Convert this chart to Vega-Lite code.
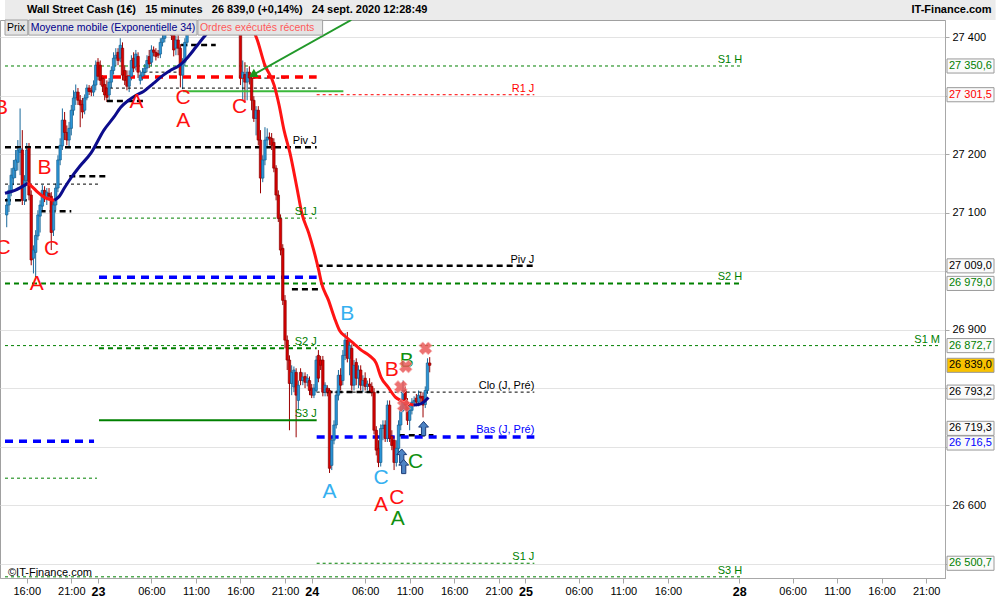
{
 "$schema": "https://vega.github.io/schema/vega-lite/v6.json",
 "width": 945,
 "height": 558,
 "autosize": {"type": "none"},
 "padding": {"left": 0, "top": 20, "right": 55, "bottom": 22},
 "background": "white",
 "config": {
  "font": "Liberation Sans",
  "locale": {"number": {"decimal": ",", "thousands": " ", "grouping": [3], "currency": ["", " €"]}},
  "view": {"stroke": "#a0a0a0"}
 },
 "resolve": {"scale": {"color": "independent"}},
 "datasets": {
  "levels": [
   {"name":"S1 H","label":"S1 H","p":27350.6,"t0":13.556,"t1":96.333},
   {"name":"R1 J","label":"R1 J","p":27301.5,"t0":48.556,"t1":73.0},
   {"name":"Piv J","label":"Piv J","p":27009.0,"t0":48.556,"t1":73.0},
   {"name":"S2 H","label":"S2 H","p":26979.0,"t0":13.556,"t1":96.333},
   {"name":"S1 M","label":"S1 M","p":26872.7,"t0":13.556,"t1":118.556},
   {"name":"Clo (J, Pré)","label":"Clo (J, Pré)","p":26793.2,"t0":48.556,"t1":73.0},
   {"name":"Bas (J, Pré)","label":"Bas (J, Pré)","p":26716.5,"t0":48.556,"t1":73.0},
   {"name":"S1 J","label":"S1 J","p":26500.7,"t0":48.556,"t1":73.0},
   {"name":"S3 H","label":"S3 H","p":26477.5,"t0":13.556,"t1":96.333},
   {"name":"Piv J 23","label":"Piv J","p":27211.9,"t0":13.556,"t1":48.556},
   {"name":"S1 J 23","label":"S1 J","p":27090.6,"t0":24.111,"t1":48.556},
   {"name":"S2 J 23","label":"S2 J","p":26868.3,"t0":24.111,"t1":48.556},
   {"name":"S3 J 23","label":"S3 J","p":26745.3,"t0":24.111,"t1":48.556},
   {"name":"Haut 23","p":27331.6,"t0":24.111,"t1":48.556},
   {"name":"Bas 23","p":26989.6,"t0":24.111,"t1":48.556},
   {"name":"Bas 22","p":26709.4,"t0":13.556,"t1":23.556},
   {"name":"S 22","p":26646.1,"t0":13.556,"t1":23.889},
   {"name":"Clo 23","p":27312.8,"t0":24.667,"t1":48.556},
   {"name":"Clo 22","p":27148.7,"t0":13.556,"t1":24.111},
   {"name":"k1","p":27162.3,"t0":20.778,"t1":25.0},
   {"name":"k2","p":27102.5,"t0":17.444,"t1":21.0},
   {"name":"k3","p":27121.3,"t0":13.556,"t1":16.0},
   {"name":"k4","p":27386.3,"t0":33.333,"t1":37.222},
   {"name":"k5","p":27340.1,"t0":29.111,"t1":33.333},
   {"name":"k6","p":27290.6,"t0":25.0,"t1":29.111},
   {"name":"k7","p":27329.9,"t0":41.333,"t1":45.222},
   {"name":"k8","p":26969.0,"t0":45.778,"t1":49.111},
   {"name":"k9","p":26719.3,"t0":57.778,"t1":61.667},
   {"name":"k10","p":26793.2,"t0":49.667,"t1":55.556},
   {"name":"Ordre","p":27307.4,"t0":33.556,"t1":51.556}
  ],
  "bougies": [
   {"t":13.75,"o":27096,"h":27125,"l":27075,"c":27113},
   {"t":14.0,"o":27113,"h":27147,"l":27101,"c":27138},
   {"t":14.25,"o":27135,"h":27176,"l":27128,"c":27164},
   {"t":14.5,"o":27159,"h":27190,"l":27147,"c":27176},
   {"t":14.75,"o":27172,"h":27207,"l":27159,"c":27190},
   {"t":15.0,"o":27186,"h":27224,"l":27172,"c":27207},
   {"t":15.25,"o":27203,"h":27278,"l":27164,"c":27210},
   {"t":15.5,"o":27207,"h":27241,"l":27113,"c":27121},
   {"t":15.75,"o":27121,"h":27164,"l":27113,"c":27155},
   {"t":16.0,"o":27155,"h":27219,"l":27147,"c":27207},
   {"t":16.25,"o":27210,"h":27219,"l":27121,"c":27130},
   {"t":16.5,"o":27130,"h":27138,"l":27010,"c":27019},
   {"t":16.75,"o":27022,"h":27044,"l":26996,"c":27036},
   {"t":17.0,"o":27032,"h":27070,"l":26990,"c":27061},
   {"t":17.25,"o":27060,"h":27104,"l":27053,"c":27096},
   {"t":17.5,"o":27094,"h":27121,"l":27066,"c":27113},
   {"t":17.75,"o":27111,"h":27147,"l":27101,"c":27138},
   {"t":18.0,"o":27138,"h":27145,"l":27118,"c":27125},
   {"t":18.25,"o":27125,"h":27142,"l":27113,"c":27135},
   {"t":18.5,"o":27133,"h":27142,"l":27121,"c":27128},
   {"t":18.75,"o":27128,"h":27135,"l":27036,"c":27066},
   {"t":19.0,"o":27070,"h":27121,"l":27060,"c":27113},
   {"t":19.25,"o":27113,"h":27150,"l":27104,"c":27142},
   {"t":19.5,"o":27142,"h":27198,"l":27135,"c":27190},
   {"t":19.75,"o":27190,"h":27227,"l":27181,"c":27215},
   {"t":20.0,"o":27214,"h":27278,"l":27207,"c":27258},
   {"t":20.25,"o":27258,"h":27272,"l":27224,"c":27237},
   {"t":20.5,"o":27237,"h":27249,"l":27215,"c":27224},
   {"t":20.75,"o":27224,"h":27255,"l":27210,"c":27244},
   {"t":21.0,"o":27244,"h":27284,"l":27232,"c":27275},
   {"t":21.25,"o":27275,"h":27309,"l":27266,"c":27296},
   {"t":21.5,"o":27296,"h":27319,"l":27284,"c":27306},
   {"t":21.75,"o":27306,"h":27313,"l":27284,"c":27292},
   {"t":22.0,"o":27292,"h":27301,"l":27246,"c":27284},
   {"t":22.25,"o":27285,"h":27296,"l":27261,"c":27272},
   {"t":22.5,"o":27275,"h":27302,"l":27268,"c":27296},
   {"t":22.75,"o":27296,"h":27319,"l":27292,"c":27313},
   {"t":23.0,"o":27313,"h":27318,"l":27301,"c":27307},
   {"t":23.25,"o":27309,"h":27316,"l":27299,"c":27306},
   {"t":23.5,"o":27306,"h":27326,"l":27299,"c":27318},
   {"t":23.75,"o":27318,"h":27360,"l":27309,"c":27352},
   {"t":24.0,"o":27357,"h":27364,"l":27326,"c":27333},
   {"t":24.25,"o":27352,"h":27360,"l":27318,"c":27326},
   {"t":24.5,"o":27330,"h":27335,"l":27306,"c":27316},
   {"t":24.75,"o":27319,"h":27330,"l":27292,"c":27301},
   {"t":25.0,"o":27313,"h":27326,"l":27289,"c":27297},
   {"t":25.25,"o":27301,"h":27330,"l":27292,"c":27323},
   {"t":25.5,"o":27323,"h":27350,"l":27313,"c":27343},
   {"t":25.75,"o":27343,"h":27374,"l":27336,"c":27364},
   {"t":26.0,"o":27364,"h":27381,"l":27350,"c":27369},
   {"t":26.25,"o":27374,"h":27381,"l":27352,"c":27360},
   {"t":26.5,"o":27364,"h":27398,"l":27357,"c":27386},
   {"t":26.75,"o":27381,"h":27391,"l":27326,"c":27335},
   {"t":27.0,"o":27343,"h":27352,"l":27318,"c":27326},
   {"t":27.25,"o":27333,"h":27343,"l":27309,"c":27316},
   {"t":27.5,"o":27316,"h":27343,"l":27306,"c":27333},
   {"t":27.75,"o":27333,"h":27369,"l":27326,"c":27360},
   {"t":28.0,"o":27364,"h":27374,"l":27340,"c":27347},
   {"t":28.25,"o":27350,"h":27378,"l":27343,"c":27371},
   {"t":28.5,"o":27367,"h":27374,"l":27330,"c":27340},
   {"t":28.75,"o":27326,"h":27343,"l":27319,"c":27335},
   {"t":29.0,"o":27333,"h":27347,"l":27326,"c":27340},
   {"t":29.25,"o":27340,"h":27354,"l":27333,"c":27347},
   {"t":29.5,"o":27347,"h":27369,"l":27340,"c":27360},
   {"t":29.75,"o":27367,"h":27378,"l":27347,"c":27354},
   {"t":30.0,"o":27357,"h":27386,"l":27350,"c":27378},
   {"t":30.25,"o":27378,"h":27384,"l":27367,"c":27374},
   {"t":30.5,"o":27374,"h":27381,"l":27360,"c":27367},
   {"t":30.75,"o":27372,"h":27378,"l":27364,"c":27369},
   {"t":31.0,"o":27371,"h":27398,"l":27364,"c":27391},
   {"t":31.25,"o":27391,"h":27405,"l":27384,"c":27398},
   {"t":31.5,"o":27398,"h":27420,"l":27391,"c":27412},
   {"t":31.75,"o":27412,"h":27438,"l":27405,"c":27426},
   {"t":32.0,"o":27426,"h":27446,"l":27412,"c":27432},
   {"t":32.25,"o":27432,"h":27443,"l":27395,"c":27403},
   {"t":32.5,"o":27408,"h":27420,"l":27367,"c":27378},
   {"t":32.75,"o":27381,"h":27402,"l":27369,"c":27395},
   {"t":33.0,"o":27395,"h":27403,"l":27369,"c":27381},
   {"t":33.25,"o":27381,"h":27388,"l":27314,"c":27335},
   {"t":33.5,"o":27335,"h":27364,"l":27311,"c":27357},
   {"t":33.75,"o":27357,"h":27398,"l":27350,"c":27391},
   {"t":34.0,"o":27391,"h":27429,"l":27384,"c":27420},
   {"t":34.25,"o":27420,"h":27455,"l":27412,"c":27443},
   {"t":34.5,"o":27443,"h":27463,"l":27432,"c":27455},
   {"t":34.75,"o":27455,"h":27472,"l":27446,"c":27463},
   {"t":35.0,"o":27463,"h":27480,"l":27453,"c":27472},
   {"t":35.25,"o":27472,"h":27484,"l":27456,"c":27467},
   {"t":35.5,"o":27467,"h":27489,"l":27458,"c":27480},
   {"t":35.75,"o":27480,"h":27494,"l":27463,"c":27474},
   {"t":36.0,"o":27474,"h":27497,"l":27467,"c":27487},
   {"t":36.25,"o":27487,"h":27497,"l":27467,"c":27477},
   {"t":36.5,"o":27477,"h":27487,"l":27460,"c":27470},
   {"t":36.75,"o":27470,"h":27491,"l":27463,"c":27484},
   {"t":37.0,"o":27484,"h":27494,"l":27470,"c":27477},
   {"t":37.25,"o":27477,"h":27484,"l":27456,"c":27467},
   {"t":37.5,"o":27467,"h":27480,"l":27453,"c":27474},
   {"t":37.75,"o":27474,"h":27480,"l":27455,"c":27463},
   {"t":38.0,"o":27463,"h":27477,"l":27453,"c":27470},
   {"t":38.25,"o":27470,"h":27477,"l":27450,"c":27460},
   {"t":38.5,"o":27460,"h":27474,"l":27450,"c":27467},
   {"t":38.75,"o":27467,"h":27474,"l":27446,"c":27456},
   {"t":39.0,"o":27456,"h":27470,"l":27446,"c":27463},
   {"t":39.25,"o":27463,"h":27470,"l":27443,"c":27453},
   {"t":39.5,"o":27453,"h":27460,"l":27439,"c":27450},
   {"t":39.75,"o":27450,"h":27456,"l":27436,"c":27446},
   {"t":40.0,"o":27443,"h":27450,"l":27318,"c":27330},
   {"t":40.25,"o":27330,"h":27360,"l":27292,"c":27340},
   {"t":40.5,"o":27336,"h":27357,"l":27289,"c":27323},
   {"t":40.75,"o":27323,"h":27347,"l":27292,"c":27340},
   {"t":41.0,"o":27340,"h":27350,"l":27319,"c":27330},
   {"t":41.25,"o":27330,"h":27335,"l":27275,"c":27292},
   {"t":41.5,"o":27292,"h":27299,"l":27255,"c":27261},
   {"t":41.75,"o":27261,"h":27282,"l":27232,"c":27275},
   {"t":42.0,"o":27275,"h":27282,"l":27215,"c":27224},
   {"t":42.25,"o":27224,"h":27241,"l":27133,"c":27159},
   {"t":42.5,"o":27159,"h":27198,"l":27152,"c":27190},
   {"t":42.75,"o":27190,"h":27246,"l":27181,"c":27224},
   {"t":43.0,"o":27224,"h":27244,"l":27210,"c":27229},
   {"t":43.25,"o":27229,"h":27237,"l":27215,"c":27227},
   {"t":43.5,"o":27227,"h":27236,"l":27207,"c":27215},
   {"t":43.75,"o":27220,"h":27227,"l":27169,"c":27176},
   {"t":44.0,"o":27176,"h":27181,"l":27121,"c":27130},
   {"t":44.25,"o":27130,"h":27138,"l":27084,"c":27090},
   {"t":44.5,"o":27090,"h":27097,"l":27027,"c":27036},
   {"t":44.75,"o":27039,"h":27046,"l":26942,"c":26950},
   {"t":45.0,"o":26950,"h":26959,"l":26868,"c":26882},
   {"t":45.25,"o":26882,"h":26890,"l":26831,"c":26848},
   {"t":45.5,"o":26848,"h":26856,"l":26728,"c":26808},
   {"t":45.75,"o":26808,"h":26839,"l":26788,"c":26827},
   {"t":46.0,"o":26802,"h":26837,"l":26793,"c":26831},
   {"t":46.25,"o":26827,"h":26834,"l":26716,"c":26788},
   {"t":46.5,"o":26779,"h":26813,"l":26762,"c":26805},
   {"t":46.75,"o":26827,"h":26834,"l":26805,"c":26813},
   {"t":47.0,"o":26813,"h":26827,"l":26805,"c":26819},
   {"t":47.25,"o":26820,"h":26827,"l":26800,"c":26810},
   {"t":47.5,"o":26810,"h":26824,"l":26803,"c":26817},
   {"t":47.75,"o":26813,"h":26820,"l":26788,"c":26796},
   {"t":48.0,"o":26800,"h":26807,"l":26783,"c":26788},
   {"t":48.25,"o":26788,"h":26807,"l":26783,"c":26800},
   {"t":48.5,"o":26796,"h":26855,"l":26793,"c":26848},
   {"t":48.75,"o":26856,"h":26865,"l":26810,"c":26817},
   {"t":49.0,"o":26848,"h":26855,"l":26831,"c":26839},
   {"t":49.25,"o":26848,"h":26855,"l":26786,"c":26793},
   {"t":49.5,"o":26793,"h":26810,"l":26786,"c":26805},
   {"t":49.75,"o":26800,"h":26805,"l":26786,"c":26793},
   {"t":50.0,"o":26796,"h":26800,"l":26655,"c":26663},
   {"t":50.25,"o":26668,"h":26718,"l":26660,"c":26711},
   {"t":50.5,"o":26711,"h":26745,"l":26704,"c":26737},
   {"t":50.75,"o":26737,"h":26796,"l":26731,"c":26788},
   {"t":51.0,"o":26788,"h":26831,"l":26779,"c":26822},
   {"t":51.25,"o":26822,"h":26834,"l":26796,"c":26805},
   {"t":51.5,"o":26813,"h":26865,"l":26805,"c":26856},
   {"t":51.75,"o":26856,"h":26894,"l":26848,"c":26882},
   {"t":52.0,"o":26882,"h":26896,"l":26844,"c":26851},
   {"t":52.25,"o":26851,"h":26882,"l":26822,"c":26873},
   {"t":52.5,"o":26868,"h":26875,"l":26796,"c":26805},
   {"t":52.75,"o":26805,"h":26848,"l":26796,"c":26839},
   {"t":53.0,"o":26844,"h":26851,"l":26805,"c":26817},
   {"t":53.25,"o":26817,"h":26839,"l":26800,"c":26831},
   {"t":53.5,"o":26831,"h":26839,"l":26796,"c":26805},
   {"t":53.75,"o":26805,"h":26822,"l":26793,"c":26813},
   {"t":54.0,"o":26817,"h":26827,"l":26796,"c":26803},
   {"t":54.25,"o":26803,"h":26813,"l":26796,"c":26807},
   {"t":54.5,"o":26807,"h":26817,"l":26793,"c":26803},
   {"t":54.75,"o":26803,"h":26810,"l":26786,"c":26793},
   {"t":55.0,"o":26793,"h":26800,"l":26721,"c":26728},
   {"t":55.25,"o":26728,"h":26735,"l":26685,"c":26694},
   {"t":55.5,"o":26697,"h":26711,"l":26665,"c":26673},
   {"t":55.75,"o":26673,"h":26738,"l":26666,"c":26731},
   {"t":56.0,"o":26731,"h":26745,"l":26711,"c":26737},
   {"t":56.25,"o":26737,"h":26745,"l":26708,"c":26714},
   {"t":56.5,"o":26714,"h":26779,"l":26708,"c":26771},
   {"t":56.75,"o":26771,"h":26779,"l":26708,"c":26714},
   {"t":57.0,"o":26718,"h":26728,"l":26694,"c":26702},
   {"t":57.25,"o":26711,"h":26718,"l":26660,"c":26673},
   {"t":57.5,"o":26673,"h":26711,"l":26666,"c":26697},
   {"t":57.75,"o":26697,"h":26745,"l":26690,"c":26737},
   {"t":58.0,"o":26737,"h":26771,"l":26728,"c":26762},
   {"t":58.25,"o":26762,"h":26813,"l":26759,"c":26796},
   {"t":58.5,"o":26796,"h":26803,"l":26762,"c":26771},
   {"t":58.75,"o":26776,"h":26783,"l":26737,"c":26745},
   {"t":59.0,"o":26745,"h":26771,"l":26728,"c":26762},
   {"t":59.25,"o":26762,"h":26783,"l":26755,"c":26776},
   {"t":59.5,"o":26776,"h":26786,"l":26769,"c":26779},
   {"t":59.75,"o":26783,"h":26790,"l":26769,"c":26776},
   {"t":60.0,"o":26776,"h":26796,"l":26769,"c":26788},
   {"t":60.25,"o":26786,"h":26793,"l":26776,"c":26783},
   {"t":60.5,"o":26786,"h":26793,"l":26750,"c":26771},
   {"t":60.75,"o":26772,"h":26803,"l":26766,"c":26796},
   {"t":61.0,"o":26796,"h":26851,"l":26790,"c":26843},
   {"t":61.25,"o":26843,"h":26853,"l":26827,"c":26839}
  ],
  "mme34": [
   {"t":13.556,"p":27133,"seg":"b0","sens":"hausse"},
   {"t":14.667,"p":27138,"seg":"b0","sens":"hausse"},
   {"t":16.111,"p":27150,"seg":"b0","sens":"hausse"},
   {"t":16.111,"p":27150,"seg":"r1","sens":"baisse"},
   {"t":16.556,"p":27145,"seg":"r1","sens":"baisse"},
   {"t":17.222,"p":27135,"seg":"r1","sens":"baisse"},
   {"t":18.0,"p":27126,"seg":"r1","sens":"baisse"},
   {"t":19.111,"p":27121,"seg":"r1","sens":"baisse"},
   {"t":19.111,"p":27121,"seg":"b1","sens":"hausse"},
   {"t":19.667,"p":27128,"seg":"b1","sens":"hausse"},
   {"t":20.222,"p":27142,"seg":"b1","sens":"hausse"},
   {"t":21.0,"p":27160,"seg":"b1","sens":"hausse"},
   {"t":21.889,"p":27178,"seg":"b1","sens":"hausse"},
   {"t":23.222,"p":27202,"seg":"b1","sens":"hausse"},
   {"t":24.667,"p":27241,"seg":"b1","sens":"hausse"},
   {"t":25.778,"p":27263,"seg":"b1","sens":"hausse"},
   {"t":26.556,"p":27280,"seg":"b1","sens":"hausse"},
   {"t":27.444,"p":27292,"seg":"b1","sens":"hausse"},
   {"t":28.333,"p":27301,"seg":"b1","sens":"hausse"},
   {"t":29.111,"p":27307,"seg":"b1","sens":"hausse"},
   {"t":30.222,"p":27321,"seg":"b1","sens":"hausse"},
   {"t":31.333,"p":27335,"seg":"b1","sens":"hausse"},
   {"t":32.111,"p":27343,"seg":"b1","sens":"hausse"},
   {"t":33.0,"p":27350,"seg":"b1","sens":"hausse"},
   {"t":33.556,"p":27357,"seg":"b1","sens":"hausse"},
   {"t":34.111,"p":27366,"seg":"b1","sens":"hausse"},
   {"t":35.0,"p":27383,"seg":"b1","sens":"hausse"},
   {"t":35.778,"p":27398,"seg":"b1","sens":"hausse"},
   {"t":36.333,"p":27408,"seg":"b1","sens":"hausse"},
   {"t":37.111,"p":27426,"seg":"b1","sens":"hausse"},
   {"t":38.0,"p":27436,"seg":"b1","sens":"hausse"},
   {"t":38.889,"p":27440,"seg":"b1","sens":"hausse"},
   {"t":38.889,"p":27440,"seg":"r2","sens":"baisse"},
   {"t":40.0,"p":27437,"seg":"r2","sens":"baisse"},
   {"t":40.778,"p":27429,"seg":"r2","sens":"baisse"},
   {"t":41.889,"p":27395,"seg":"r2","sens":"baisse"},
   {"t":42.667,"p":27355,"seg":"r2","sens":"baisse"},
   {"t":43.778,"p":27318,"seg":"r2","sens":"baisse"},
   {"t":44.333,"p":27284,"seg":"r2","sens":"baisse"},
   {"t":44.889,"p":27241,"seg":"r2","sens":"baisse"},
   {"t":45.556,"p":27202,"seg":"r2","sens":"baisse"},
   {"t":46.333,"p":27143,"seg":"r2","sens":"baisse"},
   {"t":46.889,"p":27099,"seg":"r2","sens":"baisse"},
   {"t":47.667,"p":27065,"seg":"r2","sens":"baisse"},
   {"t":48.222,"p":27036,"seg":"r2","sens":"baisse"},
   {"t":48.778,"p":27002,"seg":"r2","sens":"baisse"},
   {"t":49.111,"p":26979,"seg":"r2","sens":"baisse"},
   {"t":49.889,"p":26950,"seg":"r2","sens":"baisse"},
   {"t":50.556,"p":26920,"seg":"r2","sens":"baisse"},
   {"t":51.111,"p":26899,"seg":"r2","sens":"baisse"},
   {"t":51.889,"p":26887,"seg":"r2","sens":"baisse"},
   {"t":52.667,"p":26877,"seg":"r2","sens":"baisse"},
   {"t":53.556,"p":26865,"seg":"r2","sens":"baisse"},
   {"t":54.444,"p":26856,"seg":"r2","sens":"baisse"},
   {"t":55.222,"p":26843,"seg":"r2","sens":"baisse"},
   {"t":55.778,"p":26819,"seg":"r2","sens":"baisse"},
   {"t":56.556,"p":26802,"seg":"r2","sens":"baisse"},
   {"t":57.444,"p":26784,"seg":"r2","sens":"baisse"},
   {"t":58.0,"p":26779,"seg":"r2","sens":"baisse"},
   {"t":58.778,"p":26774,"seg":"r2","sens":"baisse"},
   {"t":59.444,"p":26771,"seg":"r2","sens":"baisse"},
   {"t":59.444,"p":26771,"seg":"b2","sens":"hausse"},
   {"t":60.0,"p":26772,"seg":"b2","sens":"hausse"},
   {"t":60.556,"p":26776,"seg":"b2","sens":"hausse"},
   {"t":61.111,"p":26784,"seg":"b2","sens":"hausse"}
  ],
  "vagues": [
   {"txt":"B","t":13.11,"p":27278,"niveau":"1"},
   {"txt":"C","t":13.33,"p":27039,"niveau":"1"},
   {"txt":"B","t":18.0,"p":27176,"niveau":"1"},
   {"txt":"A","t":17.11,"p":26978,"niveau":"1"},
   {"txt":"C","t":18.78,"p":27038,"niveau":"1"},
   {"txt":"A","t":28.33,"p":27289,"niveau":"1"},
   {"txt":"C","t":33.56,"p":27296,"niveau":"1"},
   {"txt":"A","t":33.56,"p":27257,"niveau":"1"},
   {"txt":"C","t":39.89,"p":27280,"niveau":"1"},
   {"txt":"B","t":57.0,"p":26831,"niveau":"1"},
   {"txt":"A","t":55.78,"p":26601,"niveau":"1"},
   {"txt":"C","t":57.56,"p":26612,"niveau":"1"},
   {"txt":"B","t":52.0,"p":26926,"niveau":"2"},
   {"txt":"A","t":50.0,"p":26622,"niveau":"2"},
   {"txt":"C","t":55.78,"p":26646,"niveau":"2"},
   {"txt":"A","t":57.67,"p":26576,"niveau":"3"},
   {"txt":"B","t":58.67,"p":26846,"niveau":"3"},
   {"txt":"C","t":59.67,"p":26673,"niveau":"3"}
  ],
  "ordres": [
   {"t":60.78,"p":26868,"sens":"vente"},
   {"t":58.0,"p":26802,"sens":"vente"},
   {"t":58.33,"p":26770,"sens":"vente"},
   {"t":58.56,"p":26837,"sens":"vente"},
   {"t":58.11,"p":26684,"sens":"achat"},
   {"t":58.33,"p":26666,"sens":"achat"},
   {"t":60.56,"p":26731,"sens":"achat"}
  ],
  "axe": [
   {"p":27350.6,"src":"S1 H"},
   {"p":27301.5,"src":"R1 J"},
   {"p":27009.0,"src":"Piv J"},
   {"p":26979.0,"src":"S2 H"},
   {"p":26872.7,"src":"S1 M"},
   {"p":26839.0,"src":"Dernier"},
   {"p":26793.2,"src":"Clo"},
   {"p":26719.3,"src":"Plus bas"},
   {"p":26716.5,"src":"Bas"},
   {"p":26500.7,"src":"S1 J"}
  ]
 },
 "layer": [
  {
   "data": {"values": [{}]},
   "mark": {"type": "rect", "fill": "#ebebeb"},
   "encoding": {
    "x": {"datum": 13.556, "type": "quantitative", "title": null},
    "x2": {"datum": 124.8},
    "y": {"datum": 27429.2, "type": "quantitative", "title": null},
    "y2": {"datum": 27466}
   }
  },
  {
   "data": {"name": "bougies"},
   "mark": {"type": "rule", "strokeWidth": 1, "clip": true},
   "encoding": {
    "x": {"field": "t", "type": "quantitative", "title": null,
     "scale": {"domain": [13.556, 118.556], "nice": false, "zero": false},
     "axis": {"orient": "bottom", "values": [16,21,24,30,35,40,45,48,54,59,64,69,72,78,83,88,96,102,107,112,117],
      "labelExpr": "datum.value==24?'23':datum.value==48?'24':datum.value==72?'25':datum.value==96?'28':(((datum.value%24)<10?'0':'')+(datum.value%24)+':00')",
      "grid": false, "domainColor": "#a8a8a8", "tickColor": "#a8a8a8", "tickSize": 5, "labelPadding": 2,
      "labelFont": "Liberation Sans", "labelColor": "#000000",
      "labelFontSize": {"condition": {"test": "datum.value % 24 == 0", "value": 12.5}, "value": 11},
      "labelFontWeight": {"condition": {"test": "datum.value % 24 == 0", "value": "bold"}, "value": "normal"},
      "labelOverlap": false, "labelFlush": false, "title": null}},
    "y": {"field": "l", "type": "quantitative", "title": null,
     "scale": {"domain": [26475.5, 27429.2], "nice": false, "zero": false},
     "axis": {"orient": "right", "values": [26500,26600,26700,26800,26900,27000,27100,27200,27300,27400],
      "labelExpr": "indexof([27300,27000,26800,26700,26500], datum.value) >= 0 ? '' : format(datum.value, ',d')",
      "grid": true, "gridColor": "#e3e3e3", "domainColor": "#a8a8a8", "tickColor": "#a8a8a8",
      "tickSize": 4, "labelPadding": 3, "labelFontSize": 11, "labelFont": "Liberation Sans", "labelColor": "#000000",
      "labelOverlap": false, "labelFlush": false, "title": null}},
    "y2": {"field": "h"},
    "color": {"condition": {"test": "datum.c >= datum.o", "value": "#1b6a9c"}, "value": "#9a0000"}
   }
  },
  {
   "data": {"name": "levels"},
   "transform": [{"filter": {"field": "name", "oneOf": ["S1 H","S1 M","S1 J 23","S1 J","S 22","S3 H"]}}],
   "mark": {"type": "rule", "color": "#008000", "strokeWidth": 1, "strokeDash": [3, 3]},
   "encoding": {"x": {"field": "t0", "type": "quantitative", "title": null}, "x2": {"field": "t1"}, "y": {"field": "p", "type": "quantitative", "title": null}}
  },
  {
   "data": {"name": "levels"},
   "transform": [{"filter": {"field": "name", "oneOf": ["S2 H","S2 J 23"]}}],
   "mark": {"type": "rule", "color": "#008000", "strokeWidth": 2, "strokeDash": [5, 4]},
   "encoding": {"x": {"field": "t0", "type": "quantitative", "title": null}, "x2": {"field": "t1"}, "y": {"field": "p", "type": "quantitative", "title": null}}
  },
  {
   "data": {"name": "levels"},
   "transform": [{"filter": {"field": "name", "oneOf": ["S3 J 23"]}}],
   "mark": {"type": "rule", "color": "#008000", "strokeWidth": 2},
   "encoding": {"x": {"field": "t0", "type": "quantitative", "title": null}, "x2": {"field": "t1"}, "y": {"field": "p", "type": "quantitative", "title": null}}
  },
  {
   "data": {"name": "levels"},
   "transform": [{"filter": {"field": "name", "oneOf": ["Clo (J, Pré)","Clo 23","Clo 22","k5","k7"]}}],
   "mark": {"type": "rule", "color": "#000000", "strokeWidth": 1, "strokeDash": [3, 3]},
   "encoding": {"x": {"field": "t0", "type": "quantitative", "title": null}, "x2": {"field": "t1"}, "y": {"field": "p", "type": "quantitative", "title": null}}
  },
  {
   "data": {"name": "levels"},
   "transform": [{"filter": {"field": "name", "oneOf": ["Piv J","Piv J 23","k1","k2","k3","k4","k6","k8","k9","k10"]}}],
   "mark": {"type": "rule", "color": "#000000", "strokeWidth": 2.5, "strokeDash": [6, 4]},
   "encoding": {"x": {"field": "t0", "type": "quantitative", "title": null}, "x2": {"field": "t1"}, "y": {"field": "p", "type": "quantitative", "title": null}}
  },
  {
   "data": {"name": "levels"},
   "transform": [{"filter": {"field": "name", "oneOf": ["Bas (J, Pré)","Bas 23","Bas 22"]}}],
   "mark": {"type": "rule", "color": "#0000ff", "strokeWidth": 3.5, "strokeDash": [8, 6]},
   "encoding": {"x": {"field": "t0", "type": "quantitative", "title": null}, "x2": {"field": "t1"}, "y": {"field": "p", "type": "quantitative", "title": null}}
  },
  {
   "data": {"name": "levels"},
   "transform": [{"filter": {"field": "name", "oneOf": ["Haut 23"]}}],
   "mark": {"type": "rule", "color": "#ff0000", "strokeWidth": 3.5, "strokeDash": [8, 6]},
   "encoding": {"x": {"field": "t0", "type": "quantitative", "title": null}, "x2": {"field": "t1"}, "y": {"field": "p", "type": "quantitative", "title": null}}
  },
  {
   "data": {"name": "levels"},
   "transform": [{"filter": {"field": "name", "oneOf": ["R1 J"]}}],
   "mark": {"type": "rule", "color": "#ff0000", "strokeWidth": 1, "strokeDash": [3, 3]},
   "encoding": {"x": {"field": "t0", "type": "quantitative", "title": null}, "x2": {"field": "t1"}, "y": {"field": "p", "type": "quantitative", "title": null}}
  },
  {
   "data": {"name": "levels"},
   "transform": [{"filter": {"field": "name", "oneOf": ["Ordre"]}}],
   "mark": {"type": "rule", "color": "#3cb93c", "strokeWidth": 2},
   "encoding": {"x": {"field": "t0", "type": "quantitative", "title": null}, "x2": {"field": "t1"}, "y": {"field": "p", "type": "quantitative", "title": null}}
  },
  {
   "data": {"name": "bougies"},
   "mark": {"type": "bar", "size": 2.4, "clip": true, "strokeWidth": 0.7},
   "encoding": {
    "x": {"field": "t", "type": "quantitative", "title": null},
    "y": {"field": "o", "type": "quantitative", "title": null},
    "y2": {"field": "c"},
    "color": {"condition": {"test": "datum.c >= datum.o", "value": "#2a95d8"}, "value": "#d80000"},
    "stroke": {"condition": {"test": "datum.c >= datum.o", "value": "#17608f"}, "value": "#8a0000"}
   }
  },
  {
   "data": {"name": "mme34"},
   "mark": {"type": "line", "strokeWidth": 3, "clip": true, "interpolate": "monotone"},
   "encoding": {
    "x": {"field": "t", "type": "quantitative", "title": null},
    "y": {"field": "p", "type": "quantitative", "title": null},
    "detail": {"field": "seg"},
    "order": {"field": "t"},
    "color": {"field": "sens", "type": "nominal", "scale": {"domain": ["hausse", "baisse"], "range": ["#0c0c8c", "#ff1414"]}, "legend": null}
   }
  },
  {
   "data": {"values": [{"t0": 52.444, "p0": 27429.2, "t1": 41.556, "p1": 27336.5}]},
   "mark": {"type": "rule", "color": "#22992a", "strokeWidth": 2, "clip": true},
   "encoding": {
    "x": {"field": "t0", "type": "quantitative", "title": null}, "x2": {"field": "t1"},
    "y": {"field": "p0", "type": "quantitative", "title": null}, "y2": {"field": "p1"}
   }
  },
  {
   "data": {"values": [{"t": 41.5, "p": 27339}]},
   "mark": {"type": "point", "shape": "triangle-up", "filled": true, "size": 90, "color": "#1a961a", "opacity": 1},
   "encoding": {"x": {"field": "t", "type": "quantitative", "title": null}, "y": {"field": "p", "type": "quantitative", "title": null}}
  },
  {
   "data": {"name": "vagues"},
   "mark": {"type": "text", "fontSize": 21, "align": "center", "baseline": "middle", "clip": true},
   "encoding": {
    "x": {"field": "t", "type": "quantitative", "title": null},
    "y": {"field": "p", "type": "quantitative", "title": null},
    "text": {"field": "txt"},
    "color": {"field": "niveau", "type": "nominal", "scale": {"domain": ["1", "2", "3"], "range": ["#ff1010", "#35b0f0", "#109010"]}, "legend": null}
   }
  },
  {
   "data": {"name": "ordres"},
   "transform": [{"filter": "datum.sens == 'vente'"}],
   "mark": {"type": "point", "shape": "cross", "angle": 45, "filled": true, "size": 170, "color": "#ea5a5a", "opacity": 0.85, "stroke": "#f7b0b0", "strokeWidth": 0.8},
   "encoding": {"x": {"field": "t", "type": "quantitative", "title": null}, "y": {"field": "p", "type": "quantitative", "title": null}}
  },
  {
   "data": {"name": "ordres"},
   "transform": [{"filter": "datum.sens == 'achat'"}],
   "mark": {"type": "point", "shape": "M0,-1L0.7,-0.2L0.3,-0.2L0.3,1L-0.3,1L-0.3,-0.2L-0.7,-0.2Z", "filled": true, "size": 200, "color": "#4d84c4", "opacity": 1, "stroke": "#1c3c78", "strokeWidth": 1},
   "encoding": {"x": {"field": "t", "type": "quantitative", "title": null}, "y": {"field": "p", "type": "quantitative", "title": null}}
  },
  {
   "data": {"name": "levels"},
   "transform": [{"filter": {"field": "name", "oneOf": ["S1 H","S2 H","S1 M","S1 J","S3 H","S1 J 23","S2 J 23","S3 J 23"]}}],
   "mark": {"type": "text", "align": "right", "baseline": "bottom", "dy": -1, "fontSize": 11, "color": "#008000"},
   "encoding": {"x": {"field": "t1", "type": "quantitative", "title": null}, "y": {"field": "p", "type": "quantitative", "title": null}, "text": {"field": "label"}}
  },
  {
   "data": {"name": "levels"},
   "transform": [{"filter": {"field": "name", "oneOf": ["R1 J"]}}],
   "mark": {"type": "text", "align": "right", "baseline": "bottom", "dy": -1, "fontSize": 11, "color": "#ff0000"},
   "encoding": {"x": {"field": "t1", "type": "quantitative", "title": null}, "y": {"field": "p", "type": "quantitative", "title": null}, "text": {"field": "label"}}
  },
  {
   "data": {"name": "levels"},
   "transform": [{"filter": {"field": "name", "oneOf": ["Piv J","Clo (J, Pré)","Piv J 23"]}}],
   "mark": {"type": "text", "align": "right", "baseline": "bottom", "dy": -1, "fontSize": 11, "color": "#000000"},
   "encoding": {"x": {"field": "t1", "type": "quantitative", "title": null}, "y": {"field": "p", "type": "quantitative", "title": null}, "text": {"field": "label"}}
  },
  {
   "data": {"name": "levels"},
   "transform": [{"filter": {"field": "name", "oneOf": ["Bas (J, Pré)"]}}],
   "mark": {"type": "text", "align": "right", "baseline": "bottom", "dy": -2, "fontSize": 11, "color": "#0000ff"},
   "encoding": {"x": {"field": "t1", "type": "quantitative", "title": null}, "y": {"field": "p", "type": "quantitative", "title": null}, "text": {"field": "label"}}
  },
  {
   "data": {"values": [{}]},
   "mark": {"type": "rect", "fill": "#e4e4e4", "stroke": "#a0a0a0", "strokeWidth": 1},
   "encoding": {"x": {"datum": 13.556, "type": "quantitative", "title": null}, "x2": {"datum": 16.111}, "y": {"datum": 27429.2, "type": "quantitative", "title": null}, "y2": {"datum": 27403.4}}
  },
  {
   "data": {"values": [{}]},
   "mark": {"type": "rect", "fill": "#e4e4e4", "stroke": "#a0a0a0", "strokeWidth": 1},
   "encoding": {"x": {"datum": 16.222, "type": "quantitative", "title": null}, "x2": {"datum": 35.111}, "y": {"datum": 27429.2, "type": "quantitative", "title": null}, "y2": {"datum": 27403.4}}
  },
  {
   "data": {"values": [{}]},
   "mark": {"type": "rect", "fill": "#e4e4e4", "stroke": "#a0a0a0", "strokeWidth": 1},
   "encoding": {"x": {"datum": 35.222, "type": "quantitative", "title": null}, "x2": {"datum": 49.222}, "y": {"datum": 27429.2, "type": "quantitative", "title": null}, "y2": {"datum": 27403.4}}
  },
  {
   "data": {"values": [{}]},
   "mark": {"type": "text", "align": "left", "baseline": "middle", "dx": 2, "fontSize": 10.5, "color": "#000000", "text": "Prix"},
   "encoding": {"x": {"datum": 13.556, "type": "quantitative", "title": null}, "y": {"datum": 27416, "type": "quantitative", "title": null}}
  },
  {
   "data": {"values": [{}]},
   "mark": {"type": "text", "align": "left", "baseline": "middle", "dx": 2, "fontSize": 10.5, "color": "#00008b", "text": "Moyenne mobile (Exponentielle 34)"},
   "encoding": {"x": {"datum": 16.222, "type": "quantitative", "title": null}, "y": {"datum": 27416, "type": "quantitative", "title": null}}
  },
  {
   "data": {"values": [{}]},
   "mark": {"type": "text", "align": "left", "baseline": "middle", "dx": 2, "fontSize": 10.5, "color": "#ff5a5a", "text": "Ordres exécutés récents"},
   "encoding": {"x": {"datum": 35.222, "type": "quantitative", "title": null}, "y": {"datum": 27416, "type": "quantitative", "title": null}}
  },
  {
   "data": {"name": "axe"},
   "transform": [{"filter": "datum.src != 'Plus bas' && datum.src != 'Bas'"}],
   "layer": [
    {
     "mark": {"type": "point", "shape": "M-1,-0.3L1,-0.3L1,0.3L-1,0.3Z", "filled": true, "size": 2209, "xOffset": 30.5, "stroke": "#9a9a9a", "strokeWidth": 1, "opacity": 1},
     "encoding": {"x": {"datum": 118.556, "type": "quantitative", "title": null}, "y": {"field": "p", "type": "quantitative", "title": null},
      "fill": {"condition": {"test": "datum.src == 'Dernier'", "value": "#f8c200"}, "value": "#fafafa"}}
    },
    {
     "mark": {"type": "text", "align": "left", "baseline": "middle", "dx": 9, "fontSize": 11},
     "encoding": {"x": {"datum": 118.556, "type": "quantitative", "title": null}, "y": {"field": "p", "type": "quantitative", "title": null},
      "text": {"field": "p", "type": "quantitative", "format": ",.1f"},
      "color": {"condition": [{"test": "datum.src == 'R1 J'", "value": "#ff0000"}, {"test": "indexof(['S1 H','S2 H','S1 M','S1 J'], datum.src) >= 0", "value": "#008000"}], "value": "#000000"}}
    }
   ]
  },
  {
   "data": {"name": "axe"},
   "transform": [{"filter": "datum.src == 'Plus bas'"}],
   "layer": [
    {
     "mark": {"type": "point", "shape": "M-1,-0.3L1,-0.3L1,0.3L-1,0.3Z", "filled": true, "size": 2209, "xOffset": 30.5, "yOffset": -7, "stroke": "#9a9a9a", "strokeWidth": 1, "opacity": 1, "fill": "#fafafa"},
     "encoding": {"x": {"datum": 118.556, "type": "quantitative", "title": null}, "y": {"field": "p", "type": "quantitative", "title": null}}
    },
    {
     "mark": {"type": "text", "align": "left", "baseline": "middle", "dx": 9, "dy": -7, "fontSize": 11, "color": "#000000"},
     "encoding": {"x": {"datum": 118.556, "type": "quantitative", "title": null}, "y": {"field": "p", "type": "quantitative", "title": null},
      "text": {"field": "p", "type": "quantitative", "format": ",.1f"}}
    }
   ]
  },
  {
   "data": {"name": "axe"},
   "transform": [{"filter": "datum.src == 'Bas'"}],
   "layer": [
    {
     "mark": {"type": "point", "shape": "M-1,-0.3L1,-0.3L1,0.3L-1,0.3Z", "filled": true, "size": 2209, "xOffset": 30.5, "yOffset": 6, "stroke": "#9a9a9a", "strokeWidth": 1, "opacity": 1, "fill": "#fafafa"},
     "encoding": {"x": {"datum": 118.556, "type": "quantitative", "title": null}, "y": {"field": "p", "type": "quantitative", "title": null}}
    },
    {
     "mark": {"type": "text", "align": "left", "baseline": "middle", "dx": 9, "dy": 6, "fontSize": 11, "color": "#0000ff"},
     "encoding": {"x": {"datum": 118.556, "type": "quantitative", "title": null}, "y": {"field": "p", "type": "quantitative", "title": null},
      "text": {"field": "p", "type": "quantitative", "format": ",.1f"}}
    }
   ]
  },
  {
   "data": {"values": [{}]},
   "mark": {"type": "text", "align": "left", "baseline": "middle", "dx": 22, "fontSize": 11, "fontWeight": "bold", "color": "#000000",
    "text": "Wall Street Cash (1€) \u00a0 15 minutes \u00a0 26 839,0 (+0,14%) \u00a0 24 sept. 2020 12:28:49"},
   "encoding": {"x": {"datum": 13.556, "type": "quantitative", "title": null}, "y": {"datum": 27446.3, "type": "quantitative", "title": null}}
  },
  {
   "data": {"values": [{}]},
   "mark": {"type": "text", "align": "right", "baseline": "middle", "dx": -4, "fontSize": 11, "fontWeight": "bold", "color": "#000000", "text": "IT-Finance.com"},
   "encoding": {"x": {"datum": 124.8, "type": "quantitative", "title": null}, "y": {"datum": 27446.3, "type": "quantitative", "title": null}}
  },
  {
   "data": {"values": [{}]},
   "mark": {"type": "text", "align": "left", "baseline": "middle", "dx": 3, "fontSize": 11, "color": "#000000", "text": "©IT-Finance.com"},
   "encoding": {"x": {"datum": 13.556, "type": "quantitative", "title": null}, "y": {"datum": 26484.1, "type": "quantitative", "title": null}}
  }
 ]
}
